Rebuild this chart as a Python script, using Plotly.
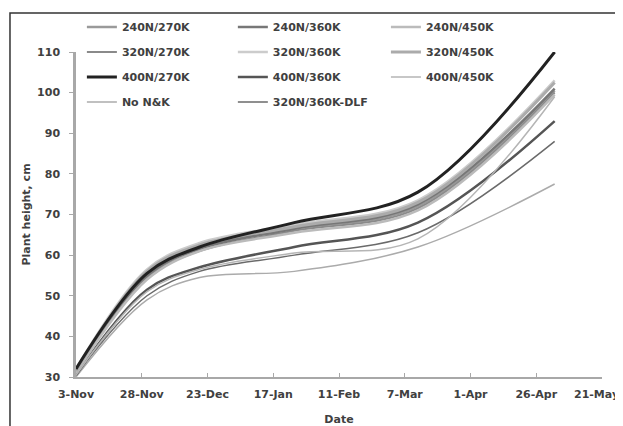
import plotly.graph_objects as go

dates = ["2011-11-03", "2011-11-30", "2011-12-20", "2012-01-25", "2012-03-12", "2012-05-03"]

n240_k270 = [31.0, 55.0, 62.0, 66.5, 72.0, 100.5]
n240_k360 = [31.0, 55.0, 61.5, 66.5, 72.5, 101.0]
n240_k450 = [31.0, 54.0, 61.0, 65.5, 71.0, 99.5]
n320_k270 = [31.5, 54.5, 61.0, 66.0, 71.5, 100.0]
n320_k360 = [32.0, 56.5, 63.0, 67.5, 73.5, 103.0]
n320_k450 = [31.5, 56.0, 62.5, 67.0, 73.0, 102.5]
n400_k270 = [32.0, 55.5, 62.0, 68.0, 75.5, 110.0]
n400_k360 = [30.5, 51.5, 57.0, 62.0, 68.0, 93.0]
n400_k450 = [30.5, 51.0, 56.5, 60.5, 64.0, 99.0]
no_nk = [30.0, 49.0, 54.5, 56.0, 62.0, 77.5]
n320_k360_dlf = [30.5, 50.0, 56.0, 60.0, 65.5, 88.0]

y_ticks = [30, 40, 50, 60, 70, 80, 90, 100, 110]
x_tick_dates = ["2011-11-03", "2011-11-28", "2011-12-23", "2012-01-17", "2012-02-11",
                "2012-03-07", "2012-04-01", "2012-04-26", "2012-05-21"]
x_tick_labels = ["3-Nov", "28-Nov", "23-Dec", "17-Jan", "11-Feb",
                 "7-Mar", "1-Apr", "26-Apr", "21-May"]

# (name, values, colour, width, legend)
series = [
    ("240N/270K", n240_k270, "#9a9a9a", 2.5, "legend"),
    ("320N/270K", n320_k270, "#8a8a8a", 2.0, "legend"),
    ("400N/270K", n400_k270, "#222222", 3.0, "legend"),
    ("No N&K", no_nk, "#ababab", 1.5, "legend"),
    ("240N/360K", n240_k360, "#777777", 2.5, "legend2"),
    ("320N/360K", n320_k360, "#cccccc", 2.5, "legend2"),
    ("400N/360K", n400_k360, "#555555", 2.5, "legend2"),
    ("320N/360K-DLF", n320_k360_dlf, "#6a6a6a", 1.5, "legend2"),
    ("240N/450K", n240_k450, "#bbbbbb", 2.5, "legend3"),
    ("320N/450K", n320_k450, "#ababab", 3.0, "legend3"),
    ("400N/450K", n400_k450, "#b5b5b5", 1.5, "legend3"),
]

FONT = "DejaVu Sans"
TXT = "#404040"
tick_font = dict(family=FONT, size=11, color=TXT, weight="bold")

fig = go.Figure()
order = sorted(range(len(series)), key=lambda i: 1 if series[i][0] == "400N/270K" else 0)
for i in order:
    name, vals, col, w, leg = series[i]
    fig.add_trace(go.Scatter(
        x=dates, y=vals, name=name, mode="lines",
        line=dict(color=col, width=w, shape="spline", smoothing=1.0),
        legend=leg, legendgroup=name, legendrank=(i + 1) * 10,
    ))

legend_common = dict(
    orientation="v", yanchor="top", xanchor="left",
    bgcolor="rgba(0,0,0,0)", borderwidth=0, tracegroupgap=6,
    font=tick_font, traceorder="grouped",
)

# last tick label is placed as an annotation so it stays inside the page
shown_labels = x_tick_labels[:-1] + [""]

LY = 1.1215
fig.update_layout(
    width=615, height=418,
    margin=dict(l=68, r=21, t=44, b=49, autoexpand=False),
    paper_bgcolor="white", plot_bgcolor="white",
    showlegend=True,
    legend=dict(x=0.0112, y=LY, **legend_common),
    legend2=dict(x=0.2982, y=LY, **legend_common),
    legend3=dict(x=0.5892, y=LY, **legend_common),
    xaxis=dict(
        type="date", range=["2011-11-03", "2012-05-21 00:05"],
        tickvals=x_tick_dates, ticktext=shown_labels,
        ticklabeloverflow="allow",
        showgrid=False, zeroline=False,
        showline=True, linecolor="#a8a8a8", linewidth=1.5,
        ticks="inside", ticklen=4, tickcolor="#a8a8a8",
        ticklabelstandoff=6,
        tickfont=tick_font,
        title=dict(text="Date", standoff=16, font=tick_font),
    ),
    yaxis=dict(
        range=[30, 110], tickvals=y_ticks,
        showgrid=False, zeroline=False,
        showline=True, linecolor="#a8a8a8", linewidth=2.5,
        ticks="outside", ticklen=4, tickcolor="#a8a8a8",
        ticklabelstandoff=7,
        tickfont=tick_font,
        title=dict(text="Plant height, cm", standoff=5, font=tick_font),
    ),
    annotations=[dict(x=x_tick_dates[-1], xref="x", y=0, yref="paper",
                      text=x_tick_labels[-1], showarrow=False,
                      xanchor="right", yanchor="top", xshift=19, yshift=-9,
                      font=tick_font)],
    shapes=[dict(type="rect", xref="paper", yref="paper",
                 x0=-0.1255, x1=1.038, y0=-0.25, y1=1.12,
                 line=dict(color="#333333", width=1.5), layer="below")],
)

fig.write_html("out.html")
